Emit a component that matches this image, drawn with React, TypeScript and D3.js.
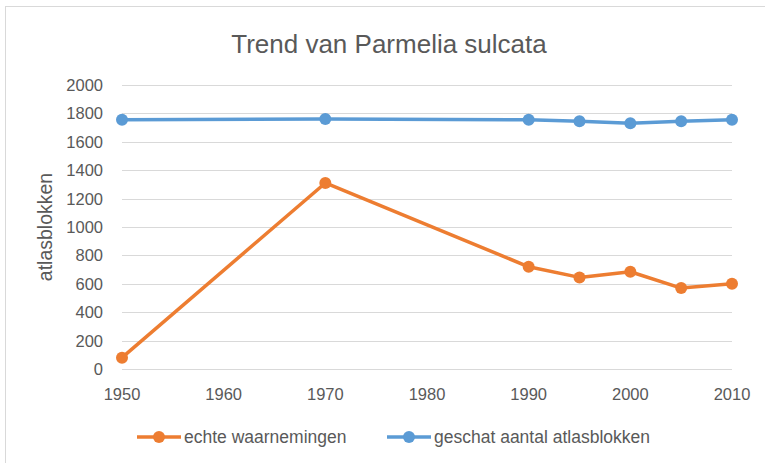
import { useEffect, useRef } from 'react';
import * as d3 from 'd3';

const years = [1950, 1970, 1990, 1995, 2000, 2005, 2010];
const echteWaarnemingen = [80, 1310, 720, 645, 685, 570, 600];
const geschatAantal = [1755, 1760, 1755, 1745, 1730, 1745, 1755];
const yTicks = [0, 200, 400, 600, 800, 1000, 1200, 1400, 1600, 1800, 2000];
const xTicks = [1950, 1960, 1970, 1980, 1990, 2000, 2010];

const series = [
  { name: 'echte waarnemingen', values: echteWaarnemingen, color: '#ED7D31' },
  { name: 'geschat aantal atlasblokken', values: geschatAantal, color: '#5B9BD5' },
];

const width = 765;
const height = 463;
const font = '"Liberation Sans", Arial, sans-serif';
const textColor = '#595959';

const App = () => {
  const svgRef = useRef<SVGSVGElement>(null);

  useEffect(() => {
    const svg = d3.select(svgRef.current);
    svg.selectAll('*').remove();

    const x = d3.scaleLinear().domain([1950, 2010]).range([122, 732]);
    const y = d3.scaleLinear().domain([0, 2000]).range([369, 85]);

    // chart frame
    svg.append('rect')
      .attr('x', 5.5).attr('y', 6.5)
      .attr('width', 800).attr('height', 500)
      .attr('fill', '#fff')
      .attr('stroke', '#d9d9d9');

    svg.append('text')
      .attr('x', 389).attr('y', 53)
      .attr('text-anchor', 'middle')
      .style('font-family', font)
      .style('font-size', '26px')
      .attr('fill', textColor)
      .text('Trend van Parmelia sulcata');

    // gridlines
    svg.append('g').selectAll('line')
      .data(yTicks)
      .join('line')
      .attr('x1', x(1950)).attr('x2', x(2010))
      .attr('y1', d => Math.round(y(d)) + 0.5).attr('y2', d => Math.round(y(d)) + 0.5)
      .attr('stroke', '#d9d9d9');

    svg.append('g').selectAll('text')
      .data(yTicks)
      .join('text')
      .attr('x', 103).attr('y', d => y(d) + 6)
      .attr('text-anchor', 'end')
      .style('font-family', font)
      .style('font-size', '16.5px')
      .attr('fill', textColor)
      .text(d => d);

    svg.append('g').selectAll('text')
      .data(xTicks)
      .join('text')
      .attr('x', d => x(d)).attr('y', 400)
      .attr('text-anchor', 'middle')
      .style('font-family', font)
      .style('font-size', '16.5px')
      .attr('fill', textColor)
      .text(d => d);

    svg.append('text')
      .attr('transform', `translate(52,227) rotate(-90)`)
      .attr('text-anchor', 'middle')
      .style('font-family', font)
      .style('font-size', '19.5px')
      .attr('fill', textColor)
      .text('atlasblokken');

    const line = d3.line<[number, number]>()
      .x(d => x(d[0]))
      .y(d => y(d[1]));

    series.forEach(s => {
      const pts: [number, number][] = years.map((yr, i) => [yr, s.values[i]]);
      svg.append('path')
        .datum(pts)
        .attr('d', line)
        .attr('fill', 'none')
        .attr('stroke', s.color)
        .attr('stroke-width', 3.5)
        .attr('stroke-linejoin', 'round');
      svg.append('g').selectAll('circle')
        .data(pts)
        .join('circle')
        .attr('cx', d => x(d[0])).attr('cy', d => y(d[1]))
        .attr('r', 6)
        .attr('fill', s.color);
    });

    // legend
    const legendX = [137, 387];
    const legend = svg.append('g').selectAll('g')
      .data(series)
      .join('g')
      .attr('transform', (d, i) => `translate(${legendX[i]},437)`);
    legend.append('line')
      .attr('x1', 0).attr('x2', 44)
      .attr('stroke', d => d.color)
      .attr('stroke-width', 3.5);
    legend.append('circle')
      .attr('cx', 22).attr('r', 6)
      .attr('fill', d => d.color);
    legend.append('text')
      .attr('x', 47).attr('y', 6)
      .style('font-family', font)
      .style('font-size', '17.5px')
      .attr('fill', textColor)
      .text(d => d.name);
  }, []);

  return (
    <svg
      ref={svgRef}
      width={width}
      height={height}
      style={{ position: 'fixed', left: 0, top: 0, display: 'block', background: '#fff' }}
    />
  );
};

export default App;
